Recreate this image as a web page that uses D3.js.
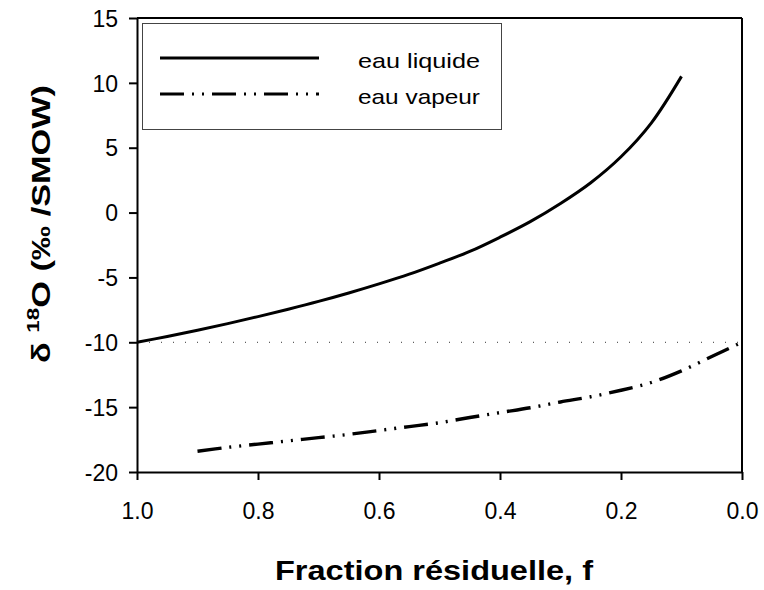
<!DOCTYPE html>
<html>
<head>
<meta charset="utf-8">
<script src="https://cdn.jsdelivr.net/npm/d3@7"></script>
<style>
  body { margin: 0; background: #fff; }
  text { font-family: "Liberation Sans", Arial, sans-serif; fill: #000; }
</style>
</head>
<body>
<svg id="chart"></svg>
<script>
// fraction residuelle f
var fLiquide = [1.00, 0.95, 0.90, 0.85, 0.80, 0.75, 0.70, 0.65, 0.60, 0.55, 0.50, 0.45, 0.40, 0.35, 0.30, 0.25, 0.20, 0.15, 0.10];
var dLiquide = [-10.0, -9.55, -9.07, -8.56, -8.02, -7.45, -6.85, -6.2, -5.5, -4.75, -3.9, -3.0, -1.9, -0.7, 0.7, 2.3, 4.3, 6.9, 10.5];

var fVapeur = [0.90, 0.85, 0.80, 0.75, 0.70, 0.65, 0.60, 0.55, 0.50, 0.45, 0.40, 0.35, 0.30, 0.25, 0.20, 0.15, 0.10, 0.05, 0.00];
var dVapeur = [-18.4, -18.1, -17.85, -17.6, -17.35, -17.1, -16.8, -16.5, -16.2, -15.8, -15.42, -15.05, -14.6, -14.2, -13.7, -13.1, -12.2, -11.1, -10.0];

var xTicks = [1.0, 0.8, 0.6, 0.4, 0.2, 0.0];
var yTicks = [-20, -15, -10, -5, 0, 5, 10, 15];
var refLevel = -10;

var seriesNames = ["eau liquide", "eau vapeur"];

var width = 764, height = 590;
var margin = {top: 18, right: 22, bottom: 118, left: 137};

var svg = d3.select("#chart")
    .attr("width", width)
    .attr("height", height);

var x = d3.scaleLinear().domain([1, 0]).range([margin.left, width - margin.right]);
var y = d3.scaleLinear().domain([-20, 15]).range([height - margin.bottom, margin.top]);

var liquide = fLiquide.map(function(f, i) { return {f: f, d: dLiquide[i]}; });
var vapeur = fVapeur.map(function(f, i) { return {f: f, d: dVapeur[i]}; });

// dotted reference line at -10
svg.append("line")
    .attr("x1", x(1)).attr("x2", x(0))
    .attr("y1", y(refLevel)).attr("y2", y(refLevel))
    .attr("stroke", "#333")
    .attr("stroke-width", 1)
    .attr("stroke-dasharray", "1,11");

var line = d3.line()
    .x(function(d) { return x(d.f); })
    .y(function(d) { return y(d.d); })
    .curve(d3.curveCatmullRom);

var dashVap = "24,8,2,8,2,8";

svg.append("path")
    .datum(liquide)
    .attr("d", line)
    .attr("fill", "none")
    .attr("stroke", "#000")
    .attr("stroke-width", 3);

svg.append("path")
    .datum(vapeur)
    .attr("d", line)
    .attr("fill", "none")
    .attr("stroke", "#000")
    .attr("stroke-width", 3.4)
    .attr("stroke-dasharray", dashVap);

// axes
var xAxis = d3.axisBottom(x).tickValues(xTicks).tickSize(8).tickSizeOuter(0)
    .tickFormat(d3.format(".1f"));
var yAxis = d3.axisLeft(y).tickValues(yTicks).tickSize(8).tickSizeOuter(0)
    .tickFormat(function(d) { return String(d); });

var gx = svg.append("g")
    .attr("transform", "translate(0," + y(-20) + ")")
    .call(xAxis);
var gy = svg.append("g")
    .attr("transform", "translate(" + x(1) + ",0)")
    .call(yAxis);

[gx, gy].forEach(function(g) {
  g.select(".domain").attr("stroke", "#000").attr("stroke-width", 2);
  g.selectAll(".tick line").attr("stroke", "#000").attr("stroke-width", 2);
  g.selectAll(".tick text")
    .style("font-family", "'Liberation Sans', Arial, sans-serif")
    .style("font-size", "23px")
    .attr("fill", "#000");
});
gx.selectAll(".tick text").attr("y", 31).attr("dy", "0.71em");
gy.selectAll(".tick text").attr("x", -19).attr("dy", "0.36em");

// top and right frame
svg.append("line")
    .attr("x1", x(1)).attr("x2", x(0))
    .attr("y1", y(15)).attr("y2", y(15))
    .attr("stroke", "#000").attr("stroke-width", 2);
svg.append("line")
    .attr("x1", x(0)).attr("x2", x(0))
    .attr("y1", y(15)).attr("y2", y(-20))
    .attr("stroke", "#000").attr("stroke-width", 2);

// legend
var legend = svg.append("g");
legend.append("rect")
    .attr("x", 142.5).attr("y", 23.5)
    .attr("width", 359).attr("height", 106)
    .attr("fill", "#fff")
    .attr("stroke", "#444")
    .attr("stroke-width", 1);

var legItems = legend.selectAll(".item")
    .data(seriesNames)
    .enter()
    .append("g")
    .attr("transform", function(d, i) { return "translate(0," + (58 + i * 36) + ")"; });

legItems.append("line")
    .attr("x1", 160).attr("x2", 319)
    .attr("y1", 0).attr("y2", 0)
    .attr("stroke", "#000")
    .attr("stroke-width", 3)
    .attr("stroke-dasharray", function(d, i) { return i === 1 ? dashVap : null; });

legItems.append("text")
    .attr("x", 358)
    .attr("y", 10)
    .style("font-size", "21px")
    .attr("textLength", 122)
    .attr("lengthAdjust", "spacingAndGlyphs")
    .text(function(d) { return d; });

// axis titles
svg.append("text")
    .attr("x", 434)
    .attr("y", 580)
    .attr("text-anchor", "middle")
    .style("font-size", "27px")
    .style("font-weight", "bold")
    .attr("textLength", 318)
    .attr("lengthAdjust", "spacingAndGlyphs")
    .text("Fraction résiduelle, f");

var yt = svg.append("text")
    .attr("transform", "translate(50,224) rotate(-90)")
    .attr("text-anchor", "middle")
    .style("font-size", "26px")
    .style("font-weight", "bold")
    .attr("textLength", 278)
    .attr("lengthAdjust", "spacingAndGlyphs");
yt.append("tspan").text("δ ");
yt.append("tspan").attr("dy", -11).style("font-size", "17px").text("18");
yt.append("tspan").attr("dy", 11).text("O (‰ /SMOW)");
</script>
</body>
</html>
